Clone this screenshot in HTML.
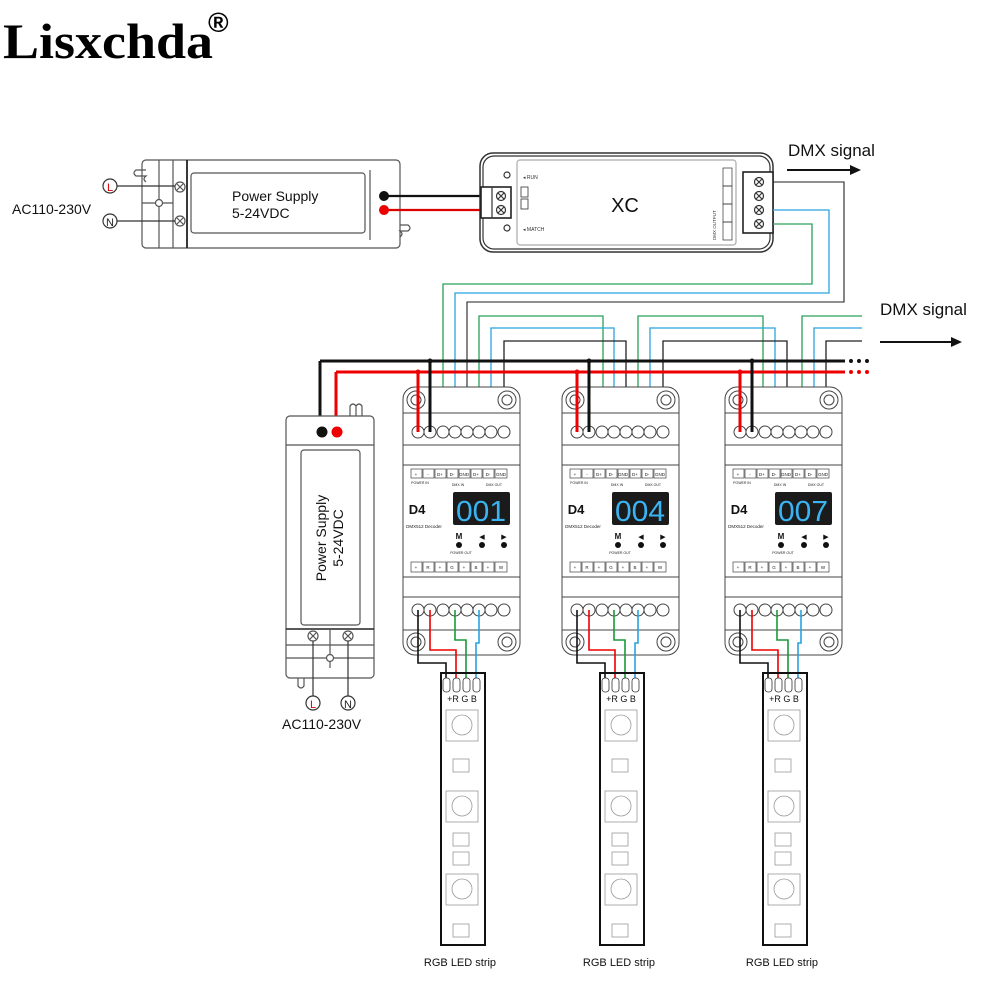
<!DOCTYPE html>
<html><head><meta charset="utf-8"><style>
html,body{margin:0;padding:0;background:#fff;}
svg{display:block;font-family:"Liberation Sans",Arial,sans-serif;}
</style></head><body>
<svg width="1000" height="1000" viewBox="0 0 1000 1000" xmlns="http://www.w3.org/2000/svg">
<text x="3" y="58" font-family="Liberation Serif,serif" font-weight="bold" font-size="50" fill="#000" textLength="210" lengthAdjust="spacingAndGlyphs">Lisxchda</text>
<text x="208" y="32" font-family="Liberation Sans,sans-serif" font-weight="bold" font-size="28" fill="#000">®</text>

<!-- top power supply -->
<g fill="none" stroke="#555" stroke-width="1.2">
<rect x="142" y="160" width="258" height="88" rx="4" fill="#fff"/>
<rect x="191" y="173" width="174" height="60" rx="3"/>
<line x1="159" y1="160" x2="159" y2="248"/>
<line x1="173" y1="160" x2="173" y2="248"/>
<line x1="187" y1="160" x2="187" y2="248" stroke="#222" stroke-width="1.8"/>
<line x1="142" y1="203" x2="173" y2="203"/>
<line x1="370" y1="170" x2="370" y2="240"/>
<path d="M146 170 h-10 q-4 3 0 6 h10 q-4 3 0 6" />
<path d="M400 225 h8 q4 3 0 6 h-8 q4 3 0 6"/>
<circle cx="159" cy="203" r="3.5" fill="#fff"/>
<circle cx="180" cy="187" r="5"/><path d="M177 184l6 6M183 184l-6 6"/>
<circle cx="180" cy="221" r="5"/><path d="M177 218l6 6M183 218l-6 6"/>
<line x1="117" y1="186" x2="175" y2="186" stroke="#333"/>
<line x1="117" y1="221" x2="175" y2="221" stroke="#333"/>
<circle cx="110" cy="186" r="7" stroke="#333"/>
<circle cx="110" cy="221" r="7" stroke="#333"/>
</g>
<text x="110" y="191" font-size="11" fill="#d00" text-anchor="middle">L</text>
<text x="110" y="226" font-size="11" fill="#222" text-anchor="middle">N</text>
<text x="12" y="214" font-size="14" fill="#111">AC110-230V</text>
<text x="232" y="201" font-size="14" fill="#111">Power Supply</text>
<text x="232" y="218" font-size="14" fill="#111">5-24VDC</text>
<line x1="383" y1="196" x2="500" y2="196" stroke="#111" stroke-width="2.2"/>
<line x1="383" y1="210" x2="500" y2="210" stroke="#d00" stroke-width="2.2"/>
<circle cx="384" cy="196" r="5" fill="#111"/>
<circle cx="384" cy="210" r="5" fill="#e00"/>

<!-- XC -->
<g fill="none" stroke="#333" stroke-width="1.2">
<rect x="480" y="153" width="293" height="99" rx="13" fill="#fff" stroke-width="1.5"/>
<rect x="483" y="156" width="287" height="93" rx="11"/>
<rect x="517" y="160" width="219" height="85" rx="3" stroke="#aaa"/>
<rect x="481" y="187" width="30" height="31" fill="#fff" stroke="#222" stroke-width="1.6"/>
<line x1="492" y1="187" x2="492" y2="218"/>
<circle cx="501" cy="196" r="4.5"/><path d="M498 193l6 6M504 193l-6 6"/>
<circle cx="501" cy="210" r="4.5"/><path d="M498 207l6 6M504 207l-6 6"/>
<circle cx="507" cy="175" r="3"/><circle cx="507" cy="228" r="3"/>
<rect x="521" y="187" width="7" height="10" stroke-width="0.8"/>
<rect x="521" y="199" width="7" height="10" stroke-width="0.8"/>
<rect x="743" y="172" width="30" height="61" fill="#fff" stroke="#222" stroke-width="1.6"/>
<rect x="723" y="168" width="9" height="18" stroke-width="0.7"/>
<rect x="723" y="186" width="9" height="18" stroke-width="0.7"/>
<rect x="723" y="204" width="9" height="18" stroke-width="0.7"/>
<rect x="723" y="222" width="9" height="18" stroke-width="0.7"/>
<g>
<circle cx="759" cy="182" r="4.5"/><path d="M756 179l6 6M762 179l-6 6"/>
<circle cx="759" cy="196" r="4.5"/><path d="M756 193l6 6M762 193l-6 6"/>
<circle cx="759" cy="210" r="4.5"/><path d="M756 207l6 6M762 207l-6 6"/>
<circle cx="759" cy="224" r="4.5"/><path d="M756 221l6 6M762 221l-6 6"/>
</g>
</g>
<text x="523" y="179" font-size="5" fill="#333">◂ RUN</text>
<text x="523" y="231" font-size="5" fill="#333">◂ MATCH</text>
<text x="625" y="212" font-size="20" fill="#111" text-anchor="middle">XC</text>
<text x="0" y="0" font-size="4.5" fill="#333" transform="translate(716,240) rotate(-90)">DMX OUTPUT</text>

<!-- XC output wires -->
<polyline points="773,182 844,182 844,302 467,302 467,432" fill="none" stroke="#222" stroke-width="1.1"/>
<polyline points="773,210 829,210 829,293 455,293 455,432" fill="none" stroke="#29a3e0" stroke-width="1.3"/>
<polyline points="773,224 812,224 812,284 443,284 443,432" fill="none" stroke="#2aa05a" stroke-width="1.3"/>

<!-- DMX signal labels -->
<text x="788" y="156" font-size="17" fill="#111">DMX signal</text>
<line x1="787" y1="170" x2="852" y2="170" stroke="#111" stroke-width="2"/>
<polygon points="850,165 861,170 850,175" fill="#111"/>
<text x="880" y="315" font-size="17" fill="#111">DMX signal</text>
<line x1="880" y1="342" x2="953" y2="342" stroke="#111" stroke-width="2"/>
<polygon points="951,337 962,342 951,347" fill="#111"/>

<!-- chain DMX wires -->
<g fill="none" stroke-width="1.3">
<polyline points="479,432 479,316 603,316 603,432" stroke="#2aa05a"/>
<polyline points="491,432 491,328 614,328 614,432" stroke="#29a3e0"/>
<polyline points="504,432 504,341 626,341 626,432" stroke="#222"/>
<polyline points="638,432 638,316 763,316 763,432" stroke="#2aa05a"/>
<polyline points="650,432 650,328 775,328 775,432" stroke="#29a3e0"/>
<polyline points="663,432 663,341 787,341 787,432" stroke="#222"/>
<polyline points="802,432 802,316 862,316" stroke="#2aa05a"/>
<polyline points="814,432 814,328 862,328" stroke="#29a3e0"/>
<polyline points="826,432 826,341 862,341" stroke="#222"/>
</g>

<!-- buses -->
<line x1="320" y1="361" x2="845" y2="361" stroke="#111" stroke-width="3"/>
<line x1="336" y1="372" x2="845" y2="372" stroke="#e00" stroke-width="3"/>
<g fill="#111"><circle cx="851" cy="361" r="2"/><circle cx="859" cy="361" r="2"/><circle cx="867" cy="361" r="2"/></g>
<g fill="#e00"><circle cx="851" cy="372" r="2"/><circle cx="859" cy="372" r="2"/><circle cx="867" cy="372" r="2"/></g>
<line x1="320" y1="361" x2="320" y2="432" stroke="#111" stroke-width="3"/>
<line x1="336" y1="372" x2="336" y2="432" stroke="#e00" stroke-width="3"/>

<!-- left power supply -->
<g fill="none" stroke="#555" stroke-width="1.2">
<rect x="286" y="416" width="88" height="262" rx="4" fill="#fff"/>
<rect x="301" y="450" width="59" height="175" rx="3"/>
<line x1="286" y1="445" x2="374" y2="445"/>
<line x1="286" y1="629" x2="374" y2="629" stroke="#222" stroke-width="1.6"/>
<line x1="286" y1="645" x2="374" y2="645"/>
<line x1="286" y1="658" x2="374" y2="658"/>
<line x1="330" y1="629" x2="330" y2="668"/>
<path d="M350 416 v-10 q3 -4 6 0 v10 M356 406 q3 -4 6 0 v10"/>
<path d="M298 678 v8 q3 4 6 0 v-8"/>
<circle cx="330" cy="658" r="3.5" fill="#fff"/>
<circle cx="313" cy="636" r="5"/><path d="M310 633l6 6M316 633l-6 6"/>
<circle cx="348" cy="636" r="5"/><path d="M345 633l6 6M351 633l-6 6"/>
<line x1="313" y1="641" x2="313" y2="696" stroke="#333"/>
<line x1="348" y1="641" x2="348" y2="696" stroke="#333"/>
<circle cx="313" cy="703" r="7" stroke="#333"/>
<circle cx="348" cy="703" r="7" stroke="#333"/>
</g>
<circle cx="322" cy="432" r="5.5" fill="#111"/>
<circle cx="337" cy="432" r="5.5" fill="#e00"/>
<text x="313" y="708" font-size="11" fill="#d00" text-anchor="middle">L</text>
<text x="348" y="708" font-size="11" fill="#222" text-anchor="middle">N</text>
<text x="282" y="729" font-size="14" fill="#111">AC110-230V</text>
<text transform="translate(326,538) rotate(-90)" font-size="14" fill="#111" text-anchor="middle">Power Supply</text>
<text transform="translate(343,538) rotate(-90)" font-size="14" fill="#111" text-anchor="middle">5-24VDC</text>

<!-- DECODER 1 -->
<g>
<g fill="none" stroke="#444" stroke-width="1">
<rect x="403" y="387" width="117" height="268" rx="12" fill="#fff"/>
<line x1="403" y1="413" x2="520" y2="413"/><line x1="403" y1="445" x2="520" y2="445"/>
<line x1="403" y1="465" x2="520" y2="465"/><line x1="403" y1="577" x2="520" y2="577"/>
<line x1="403" y1="597" x2="520" y2="597"/><line x1="403" y1="630" x2="520" y2="630"/>
<circle cx="416" cy="400" r="9"/><circle cx="416" cy="400" r="5"/>
<circle cx="507" cy="400" r="9"/><circle cx="507" cy="400" r="5"/>
<circle cx="416" cy="642" r="9"/><circle cx="416" cy="642" r="5"/>
<circle cx="507" cy="642" r="9"/><circle cx="507" cy="642" r="5"/>
<g fill="#fff"><circle cx="418" cy="432" r="6"/><circle cx="430" cy="432" r="6"/><circle cx="443" cy="432" r="6"/><circle cx="455" cy="432" r="6"/><circle cx="467" cy="432" r="6"/><circle cx="479" cy="432" r="6"/><circle cx="491" cy="432" r="6"/><circle cx="504" cy="432" r="6"/>
<circle cx="418" cy="610" r="6"/><circle cx="430" cy="610" r="6"/><circle cx="443" cy="610" r="6"/><circle cx="455" cy="610" r="6"/><circle cx="467" cy="610" r="6"/><circle cx="479" cy="610" r="6"/><circle cx="491" cy="610" r="6"/><circle cx="504" cy="610" r="6"/></g>
<g stroke-width="0.7"><rect x="411" y="469" width="11" height="9"/><rect x="423" y="469" width="11" height="9"/><rect x="435" y="469" width="11" height="9"/><rect x="447" y="469" width="11" height="9"/><rect x="459" y="469" width="11" height="9"/><rect x="471" y="469" width="11" height="9"/><rect x="483" y="469" width="11" height="9"/><rect x="495" y="469" width="12" height="9"/>
<rect x="411" y="562" width="11" height="10"/><rect x="423" y="562" width="11" height="10"/><rect x="435" y="562" width="11" height="10"/><rect x="447" y="562" width="11" height="10"/><rect x="459" y="562" width="11" height="10"/><rect x="471" y="562" width="11" height="10"/><rect x="483" y="562" width="11" height="10"/><rect x="495" y="562" width="12" height="10"/></g>
</g>
<g font-size="4.5" fill="#222" text-anchor="middle"><text x="416" y="476">+</text><text x="428" y="476">-</text><text x="440" y="476">D+</text><text x="452" y="476">D-</text><text x="464" y="476">GND</text><text x="476" y="476">D+</text><text x="488" y="476">D-</text><text x="501" y="476">GND</text>
<text x="420" y="484" font-size="3.5">POWER IN</text><text x="458" y="486" font-size="3.5">DMX IN</text><text x="494" y="486" font-size="3.5">DMX OUT</text>
<text x="416" y="569">+</text><text x="428" y="569">R</text><text x="440" y="569">+</text><text x="452" y="569">G</text><text x="464" y="569">+</text><text x="476" y="569">B</text><text x="488" y="569">+</text><text x="501" y="569">W</text>
<text x="461" y="554" font-size="3.5">POWER OUT</text>
<text x="424" y="528" font-size="4.5">DMX512 Decoder</text></g>
<text x="417" y="514" font-size="13" font-weight="bold" fill="#111" text-anchor="middle">D4</text>
<rect x="453" y="492" width="57" height="33" rx="2" fill="#1b1b1b"/>
<text x="481" y="521" font-size="29" fill="#3ab4f2" text-anchor="middle" font-family="Liberation Sans,sans-serif" textLength="50" lengthAdjust="spacingAndGlyphs">001</text>
<text x="459" y="539" font-size="8" font-weight="bold" fill="#111" text-anchor="middle">M</text>
<text x="482" y="539" font-size="7" fill="#111" text-anchor="middle">◀</text>
<text x="504" y="539" font-size="7" fill="#111" text-anchor="middle">▶</text>
<circle cx="459" cy="545" r="3" fill="#111"/><circle cx="482" cy="545" r="3" fill="#111"/><circle cx="504" cy="545" r="3" fill="#111"/>
</g>

<!-- DECODER 2 -->
<g transform="translate(159,0)">
<g fill="none" stroke="#444" stroke-width="1">
<rect x="403" y="387" width="117" height="268" rx="12" fill="#fff"/>
<line x1="403" y1="413" x2="520" y2="413"/><line x1="403" y1="445" x2="520" y2="445"/>
<line x1="403" y1="465" x2="520" y2="465"/><line x1="403" y1="577" x2="520" y2="577"/>
<line x1="403" y1="597" x2="520" y2="597"/><line x1="403" y1="630" x2="520" y2="630"/>
<circle cx="416" cy="400" r="9"/><circle cx="416" cy="400" r="5"/>
<circle cx="507" cy="400" r="9"/><circle cx="507" cy="400" r="5"/>
<circle cx="416" cy="642" r="9"/><circle cx="416" cy="642" r="5"/>
<circle cx="507" cy="642" r="9"/><circle cx="507" cy="642" r="5"/>
<g fill="#fff"><circle cx="418" cy="432" r="6"/><circle cx="430" cy="432" r="6"/><circle cx="443" cy="432" r="6"/><circle cx="455" cy="432" r="6"/><circle cx="467" cy="432" r="6"/><circle cx="479" cy="432" r="6"/><circle cx="491" cy="432" r="6"/><circle cx="504" cy="432" r="6"/>
<circle cx="418" cy="610" r="6"/><circle cx="430" cy="610" r="6"/><circle cx="443" cy="610" r="6"/><circle cx="455" cy="610" r="6"/><circle cx="467" cy="610" r="6"/><circle cx="479" cy="610" r="6"/><circle cx="491" cy="610" r="6"/><circle cx="504" cy="610" r="6"/></g>
<g stroke-width="0.7"><rect x="411" y="469" width="11" height="9"/><rect x="423" y="469" width="11" height="9"/><rect x="435" y="469" width="11" height="9"/><rect x="447" y="469" width="11" height="9"/><rect x="459" y="469" width="11" height="9"/><rect x="471" y="469" width="11" height="9"/><rect x="483" y="469" width="11" height="9"/><rect x="495" y="469" width="12" height="9"/>
<rect x="411" y="562" width="11" height="10"/><rect x="423" y="562" width="11" height="10"/><rect x="435" y="562" width="11" height="10"/><rect x="447" y="562" width="11" height="10"/><rect x="459" y="562" width="11" height="10"/><rect x="471" y="562" width="11" height="10"/><rect x="483" y="562" width="11" height="10"/><rect x="495" y="562" width="12" height="10"/></g>
</g>
<g font-size="4.5" fill="#222" text-anchor="middle"><text x="416" y="476">+</text><text x="428" y="476">-</text><text x="440" y="476">D+</text><text x="452" y="476">D-</text><text x="464" y="476">GND</text><text x="476" y="476">D+</text><text x="488" y="476">D-</text><text x="501" y="476">GND</text>
<text x="420" y="484" font-size="3.5">POWER IN</text><text x="458" y="486" font-size="3.5">DMX IN</text><text x="494" y="486" font-size="3.5">DMX OUT</text>
<text x="416" y="569">+</text><text x="428" y="569">R</text><text x="440" y="569">+</text><text x="452" y="569">G</text><text x="464" y="569">+</text><text x="476" y="569">B</text><text x="488" y="569">+</text><text x="501" y="569">W</text>
<text x="461" y="554" font-size="3.5">POWER OUT</text>
<text x="424" y="528" font-size="4.5">DMX512 Decoder</text></g>
<text x="417" y="514" font-size="13" font-weight="bold" fill="#111" text-anchor="middle">D4</text>
<rect x="453" y="492" width="57" height="33" rx="2" fill="#1b1b1b"/>
<text x="481" y="521" font-size="29" fill="#3ab4f2" text-anchor="middle" font-family="Liberation Sans,sans-serif" textLength="50" lengthAdjust="spacingAndGlyphs">004</text>
<text x="459" y="539" font-size="8" font-weight="bold" fill="#111" text-anchor="middle">M</text>
<text x="482" y="539" font-size="7" fill="#111" text-anchor="middle">◀</text>
<text x="504" y="539" font-size="7" fill="#111" text-anchor="middle">▶</text>
<circle cx="459" cy="545" r="3" fill="#111"/><circle cx="482" cy="545" r="3" fill="#111"/><circle cx="504" cy="545" r="3" fill="#111"/>
</g>

<!-- DECODER 3 -->
<g transform="translate(322,0)">
<g fill="none" stroke="#444" stroke-width="1">
<rect x="403" y="387" width="117" height="268" rx="12" fill="#fff"/>
<line x1="403" y1="413" x2="520" y2="413"/><line x1="403" y1="445" x2="520" y2="445"/>
<line x1="403" y1="465" x2="520" y2="465"/><line x1="403" y1="577" x2="520" y2="577"/>
<line x1="403" y1="597" x2="520" y2="597"/><line x1="403" y1="630" x2="520" y2="630"/>
<circle cx="416" cy="400" r="9"/><circle cx="416" cy="400" r="5"/>
<circle cx="507" cy="400" r="9"/><circle cx="507" cy="400" r="5"/>
<circle cx="416" cy="642" r="9"/><circle cx="416" cy="642" r="5"/>
<circle cx="507" cy="642" r="9"/><circle cx="507" cy="642" r="5"/>
<g fill="#fff"><circle cx="418" cy="432" r="6"/><circle cx="430" cy="432" r="6"/><circle cx="443" cy="432" r="6"/><circle cx="455" cy="432" r="6"/><circle cx="467" cy="432" r="6"/><circle cx="479" cy="432" r="6"/><circle cx="491" cy="432" r="6"/><circle cx="504" cy="432" r="6"/>
<circle cx="418" cy="610" r="6"/><circle cx="430" cy="610" r="6"/><circle cx="443" cy="610" r="6"/><circle cx="455" cy="610" r="6"/><circle cx="467" cy="610" r="6"/><circle cx="479" cy="610" r="6"/><circle cx="491" cy="610" r="6"/><circle cx="504" cy="610" r="6"/></g>
<g stroke-width="0.7"><rect x="411" y="469" width="11" height="9"/><rect x="423" y="469" width="11" height="9"/><rect x="435" y="469" width="11" height="9"/><rect x="447" y="469" width="11" height="9"/><rect x="459" y="469" width="11" height="9"/><rect x="471" y="469" width="11" height="9"/><rect x="483" y="469" width="11" height="9"/><rect x="495" y="469" width="12" height="9"/>
<rect x="411" y="562" width="11" height="10"/><rect x="423" y="562" width="11" height="10"/><rect x="435" y="562" width="11" height="10"/><rect x="447" y="562" width="11" height="10"/><rect x="459" y="562" width="11" height="10"/><rect x="471" y="562" width="11" height="10"/><rect x="483" y="562" width="11" height="10"/><rect x="495" y="562" width="12" height="10"/></g>
</g>
<g font-size="4.5" fill="#222" text-anchor="middle"><text x="416" y="476">+</text><text x="428" y="476">-</text><text x="440" y="476">D+</text><text x="452" y="476">D-</text><text x="464" y="476">GND</text><text x="476" y="476">D+</text><text x="488" y="476">D-</text><text x="501" y="476">GND</text>
<text x="420" y="484" font-size="3.5">POWER IN</text><text x="458" y="486" font-size="3.5">DMX IN</text><text x="494" y="486" font-size="3.5">DMX OUT</text>
<text x="416" y="569">+</text><text x="428" y="569">R</text><text x="440" y="569">+</text><text x="452" y="569">G</text><text x="464" y="569">+</text><text x="476" y="569">B</text><text x="488" y="569">+</text><text x="501" y="569">W</text>
<text x="461" y="554" font-size="3.5">POWER OUT</text>
<text x="424" y="528" font-size="4.5">DMX512 Decoder</text></g>
<text x="417" y="514" font-size="13" font-weight="bold" fill="#111" text-anchor="middle">D4</text>
<rect x="453" y="492" width="57" height="33" rx="2" fill="#1b1b1b"/>
<text x="481" y="521" font-size="29" fill="#3ab4f2" text-anchor="middle" font-family="Liberation Sans,sans-serif" textLength="50" lengthAdjust="spacingAndGlyphs">007</text>
<text x="459" y="539" font-size="8" font-weight="bold" fill="#111" text-anchor="middle">M</text>
<text x="482" y="539" font-size="7" fill="#111" text-anchor="middle">◀</text>
<text x="504" y="539" font-size="7" fill="#111" text-anchor="middle">▶</text>
<circle cx="459" cy="545" r="3" fill="#111"/><circle cx="482" cy="545" r="3" fill="#111"/><circle cx="504" cy="545" r="3" fill="#111"/>
</g>

<!-- power taps for decoders -->
<g stroke-width="3" fill="none">
<line x1="418" y1="372" x2="418" y2="432" stroke="#e00"/><line x1="430" y1="361" x2="430" y2="432" stroke="#111"/>
<line x1="577" y1="372" x2="577" y2="432" stroke="#e00"/><line x1="589" y1="361" x2="589" y2="432" stroke="#111"/>
<line x1="740" y1="372" x2="740" y2="432" stroke="#e00"/><line x1="752" y1="361" x2="752" y2="432" stroke="#111"/>
</g>
<g><circle cx="418" cy="372" r="2.5" fill="#e00"/><circle cx="430" cy="361" r="2.5" fill="#111"/>
<circle cx="577" cy="372" r="2.5" fill="#e00"/><circle cx="589" cy="361" r="2.5" fill="#111"/>
<circle cx="740" cy="372" r="2.5" fill="#e00"/><circle cx="752" cy="361" r="2.5" fill="#111"/></g>

<!-- strips with output wires -->
<g>
<g fill="none" stroke-width="1.6">
<polyline points="418,610 418,663 446,663 446,686" stroke="#111"/>
<polyline points="430,610 430,650 456,650 456,686" stroke="#e00"/>
<polyline points="455,610 455,640 466,640 466,686" stroke="#1a9a3a"/>
<polyline points="479,610 479,643 476,643 476,686" stroke="#29a3e0"/>
</g>
<rect x="441" y="673" width="44" height="272" fill="none" stroke="#111" stroke-width="2"/>
<g fill="#fff" stroke="#333" stroke-width="0.8"><rect x="443" y="678" width="7" height="14" rx="3"/><rect x="453" y="678" width="7" height="14" rx="3"/><rect x="463" y="678" width="7" height="14" rx="3"/><rect x="473" y="678" width="7" height="14" rx="3"/></g>
<text x="462" y="702" font-size="9" fill="#111" text-anchor="middle">+R G B</text>
<g fill="none" stroke="#999" stroke-width="0.8">
<rect x="446" y="710" width="32" height="31"/><circle cx="462" cy="725" r="10"/>
<rect x="453" y="759" width="16" height="13"/>
<rect x="446" y="791" width="32" height="31"/><circle cx="462" cy="806" r="10"/>
<rect x="453" y="833" width="16" height="13"/><rect x="453" y="852" width="16" height="13"/>
<rect x="446" y="874" width="32" height="31"/><circle cx="462" cy="889" r="10"/>
<rect x="453" y="924" width="16" height="13"/>
</g>
<text x="460" y="966" font-size="11" fill="#111" text-anchor="middle">RGB LED strip</text>
</g>
<g transform="translate(159,0)">
<g fill="none" stroke-width="1.6">
<polyline points="418,610 418,663 446,663 446,686" stroke="#111"/>
<polyline points="430,610 430,650 456,650 456,686" stroke="#e00"/>
<polyline points="455,610 455,640 466,640 466,686" stroke="#1a9a3a"/>
<polyline points="479,610 479,643 476,643 476,686" stroke="#29a3e0"/>
</g>
<rect x="441" y="673" width="44" height="272" fill="none" stroke="#111" stroke-width="2"/>
<g fill="#fff" stroke="#333" stroke-width="0.8"><rect x="443" y="678" width="7" height="14" rx="3"/><rect x="453" y="678" width="7" height="14" rx="3"/><rect x="463" y="678" width="7" height="14" rx="3"/><rect x="473" y="678" width="7" height="14" rx="3"/></g>
<text x="462" y="702" font-size="9" fill="#111" text-anchor="middle">+R G B</text>
<g fill="none" stroke="#999" stroke-width="0.8">
<rect x="446" y="710" width="32" height="31"/><circle cx="462" cy="725" r="10"/>
<rect x="453" y="759" width="16" height="13"/>
<rect x="446" y="791" width="32" height="31"/><circle cx="462" cy="806" r="10"/>
<rect x="453" y="833" width="16" height="13"/><rect x="453" y="852" width="16" height="13"/>
<rect x="446" y="874" width="32" height="31"/><circle cx="462" cy="889" r="10"/>
<rect x="453" y="924" width="16" height="13"/>
</g>
<text x="460" y="966" font-size="11" fill="#111" text-anchor="middle">RGB LED strip</text>
</g>
<g transform="translate(322,0)">
<g fill="none" stroke-width="1.6">
<polyline points="418,610 418,663 446,663 446,686" stroke="#111"/>
<polyline points="430,610 430,650 456,650 456,686" stroke="#e00"/>
<polyline points="455,610 455,640 466,640 466,686" stroke="#1a9a3a"/>
<polyline points="479,610 479,643 476,643 476,686" stroke="#29a3e0"/>
</g>
<rect x="441" y="673" width="44" height="272" fill="none" stroke="#111" stroke-width="2"/>
<g fill="#fff" stroke="#333" stroke-width="0.8"><rect x="443" y="678" width="7" height="14" rx="3"/><rect x="453" y="678" width="7" height="14" rx="3"/><rect x="463" y="678" width="7" height="14" rx="3"/><rect x="473" y="678" width="7" height="14" rx="3"/></g>
<text x="462" y="702" font-size="9" fill="#111" text-anchor="middle">+R G B</text>
<g fill="none" stroke="#999" stroke-width="0.8">
<rect x="446" y="710" width="32" height="31"/><circle cx="462" cy="725" r="10"/>
<rect x="453" y="759" width="16" height="13"/>
<rect x="446" y="791" width="32" height="31"/><circle cx="462" cy="806" r="10"/>
<rect x="453" y="833" width="16" height="13"/><rect x="453" y="852" width="16" height="13"/>
<rect x="446" y="874" width="32" height="31"/><circle cx="462" cy="889" r="10"/>
<rect x="453" y="924" width="16" height="13"/>
</g>
<text x="460" y="966" font-size="11" fill="#111" text-anchor="middle">RGB LED strip</text>
</g>
</svg>
</body></html>
